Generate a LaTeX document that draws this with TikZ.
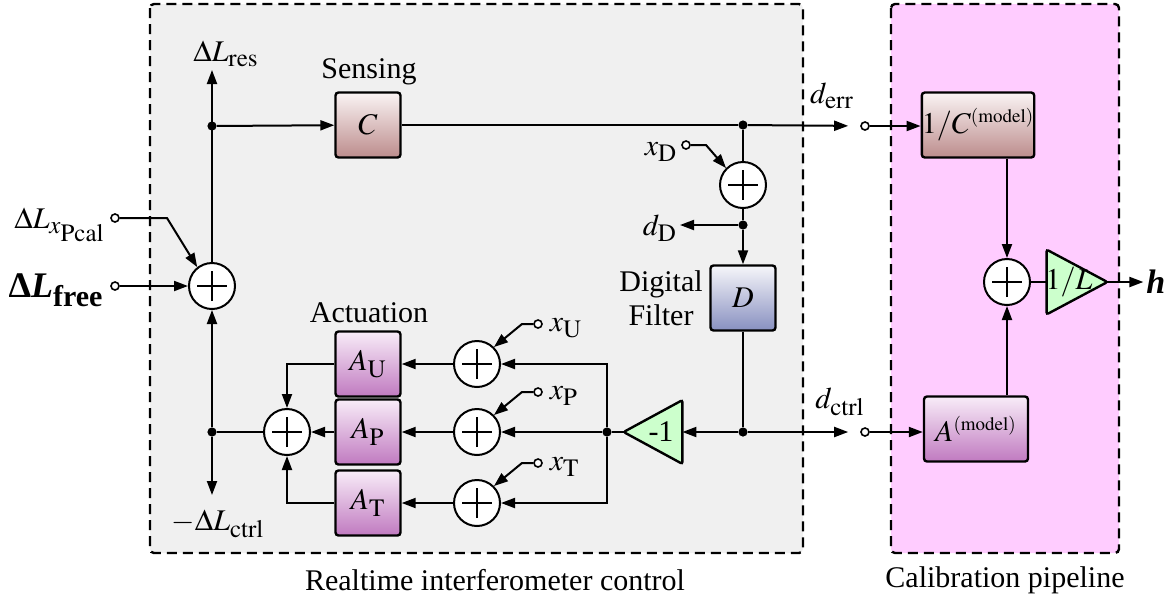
\documentclass[tikz,border=0pt]{standalone}
\usepackage{mathptmx}
\usepackage[no-math]{fontspec}
\setmainfont{Liberation Serif}
\usepackage{tikz}
\usetikzlibrary{arrows.meta,positioning}
\DeclareMathSizes{15}{15}{12.5}{9.5}
\DeclareMathSizes{18}{18}{15}{12}

\definecolor{ctrlbg}{RGB}{240,240,240}
\definecolor{calbg}{RGB}{255,204,255}
\definecolor{senstop}{RGB}{250,244,244}
\definecolor{sensbot}{RGB}{188,140,140}
\definecolor{filttop}{RGB}{246,246,250}
\definecolor{filtbot}{RGB}{136,144,192}
\definecolor{acttop}{RGB}{248,236,248}
\definecolor{actbot}{RGB}{192,122,192}
\definecolor{gaingreen}{RGB}{204,255,204}

\begin{document}
\begin{tikzpicture}[x=0.5pt,y=-0.5pt,font=\fontsize{15}{17}\selectfont,
 blk/.style={draw,line width=1.2pt,rounded corners=1.5pt,minimum width=32.5pt,
 minimum height=32.5pt,inner sep=0pt},
 sens/.style={blk,top color=senstop,bottom color=sensbot},
 filt/.style={blk,top color=filttop,bottom color=filtbot},
 act/.style={blk,top color=acttop,bottom color=actbot},
 sumn/.style={circle,draw,fill=white,line width=1pt,minimum size=23pt,inner sep=0pt,
 path picture={\draw[line width=1pt]
 ([xshift=-7.5pt]path picture bounding box.center) -- ([xshift=7.5pt]path picture bounding box.center)
 ([yshift=-7.5pt]path picture bounding box.center) -- ([yshift=7.5pt]path picture bounding box.center);}},
 jdot/.style={circle,fill,inner sep=0pt,minimum size=4.6pt},
 term/.style={circle,draw,fill=white,line width=0.8pt,inner sep=0pt,minimum size=4pt},
 gainbox/.style={inner sep=0pt,minimum width=29pt,minimum height=31.5pt},
 gainshape/.style={draw,fill=gaingreen,line width=1.2pt,rounded corners=1pt},
 sig/.style={line width=1pt,-{Triangle[length=7pt,width=5pt]}},
 wire/.style={line width=1pt},
 zone/.style={draw,line width=1.2pt,dash pattern=on 5pt off 3pt,rounded corners=2pt}]

  \useasboundingbox (0,0) rectangle (1174,602);

  % the two regions
  \draw[zone,fill=ctrlbg] (150,4) rectangle (803,553);
  \draw[zone,fill=calbg] (891,4) rectangle (1119,553);
  \node (lrt) at (495,580) {Realtime interferometer control};
  \node (lcp) at (1005,580) {Calibration pipeline};

  % loop
  \node[sumn] (s0) at (212,286) {};
  \node[jdot] (j0) at (212,126) {};
  \coordinate (res) at (212,70);
  \node (lres) at (226,54) {$\Delta L_{\mathrm{res}}$};
  \node[sens] (c) at (368,125) {$C$};
  \node (lsens) at (369,72) {Sensing};
  \node[jdot] (j1) at (743,125) {};
  \node[sumn] (sd) at (743,185) {};
  \node[jdot] (j2) at (743,225) {};
  \node[filt] (d) at (743,298) {$D$};
  \node[align=center] (ldig) at (661,298) {Digital\\Filter};
  \node[jdot] (j3) at (743,432) {};
  \node[gainbox] (gn) at (653,432) {};
  \filldraw[gainshape] (gn.west) -- (gn.north east) -- (gn.south east) -- cycle;
  \node (gnl) at ([xshift=4pt]gn.center) {-1};
  \node[jdot] (j4) at (607,432) {};

  \foreach \X/\Y in {U/364,P/432,T/503}
  {\node[sumn] (s\X) at (477,\Y) {};
   \node[act] (a\X) at (368,\Y) {$A_{\mathrm{\X}}$};
   \node[term] (t\X) at (538,\Y-40) {};
   \node[right=0pt of t\X,yshift=-2pt] (lx\X) {$x_{\mathrm{\X}}$};
   \draw[sig] (t\X) -- ++(-16,0) -- (s\X.north east);
   \draw[sig] (s\X) -- (a\X);
  }
  \node (lact) at (369,313) {Actuation};
  \node[sumn] (sa) at (287,432) {};
  \node[jdot] (j5) at (212,432) {};
  \coordinate (ctrl) at (212,495);
  \node (lctrlout) at (218,524) {$-\Delta L_{\mathrm{ctrl}}$};

  % inputs
  \node[term] (tpcal) at (115,218) {};
  \node[term] (tfree) at (115,286) {};
  \node (lpcal) at (60,225) {$\Delta L_{x_{\scriptstyle\mathrm{Pcal}}}$};
  \node[font=\fontsize{18}{20}\selectfont] (lfree) at (56,290) {\bfseries Δ\textit{L}\textsubscript{free}};
  \node[term] (tD) at (686,145) {};
  \node (lxD) at (661,152) {$x_{\mathrm{D}}$};
  \node (ldD) at (660,228) {$d_{\mathrm{D}}$};

  % outputs to calibration
  \node[term] (terr) at (865,126) {};
  \node[term] (tctrl) at (865,432) {};
  \node (lerr) at (832,96) {$d_{\mathrm{err}}$};
  \node (lctrl) at (840,402) {$d_{\mathrm{ctrl}}$};

  % calibration pipeline
  \node[sens,minimum width=53pt] (cm) at (978,125) {$1/C^{\scriptscriptstyle\mathrm{(model)}}$};
  \node[act,minimum width=52pt] (am) at (976,429) {$A^{\scriptscriptstyle\mathrm{(model)}}$};
  \node[sumn] (sr) at (1007,282) {};
  \node[gainbox,minimum width=30pt,minimum height=32pt] (gl) at (1077,282) {};
  \filldraw[gainshape] (gl.east) -- (gl.north west) -- (gl.south west) -- cycle;
  \node (gll) at ([xshift=-4pt]gl.center) {$1/L$};

  % connections
  \draw[sig] (tfree) -- (s0);
  \draw[sig] (tpcal) -- ++(52,0) -- (s0.128);
  \draw[sig] (s0.north) -- (res);
  \draw[sig] (j0) -- (c);
  \draw[wire] (c) -- (j1);
  \draw[sig,shorten >=6pt] (j1) -- (terr);
  \draw[sig] (terr) -- (terr -| cm.west);
  \draw[wire] (j1) -- (sd);
  \draw[sig] (tD) -- ++(20,0) -- (sd.north west);
  \draw[wire] (sd) -- (j2);
  \draw[sig] (j2) -- (d);
  \draw[sig] (j2) -- ++(-63,0) coordinate (dDout);
  \draw[wire] (d) -- (j3);
  \draw[sig] (j3) -- (gn.east);
  \draw[wire] (gn.west) -- (j4);
  \draw[sig,shorten >=6pt] (j3) -- (tctrl);
  \draw[sig] (tctrl) -- (tctrl -| am.west);
  \draw[sig] (j4) -- (sP);
  \draw[sig] (j4) |- (sU);
  \draw[sig] (j4) |- (sT);
  \draw[sig] (aP) -- (sa);
  \draw[sig] (aU) -| (sa);
  \draw[sig] (aT) -| (sa);
  \draw[wire] (sa) -- (j5);
  \draw[sig] (j5) -- (s0);
  \draw[sig] (j5) -- (ctrl);

  \draw[sig] (cm.south -| sr) -- (sr);
  \draw[sig] (am.north -| sr) -- (sr);
  \draw[wire] (sr) -- (gl.west);
  \draw[sig] (gl.east) -- ++(36,0) coordinate (hout);
  \node[right=-2pt of hout,font=\fontsize{17}{19}\selectfont] (lh) {\bfseries\itshape h};

\end{tikzpicture}
\end{document}
